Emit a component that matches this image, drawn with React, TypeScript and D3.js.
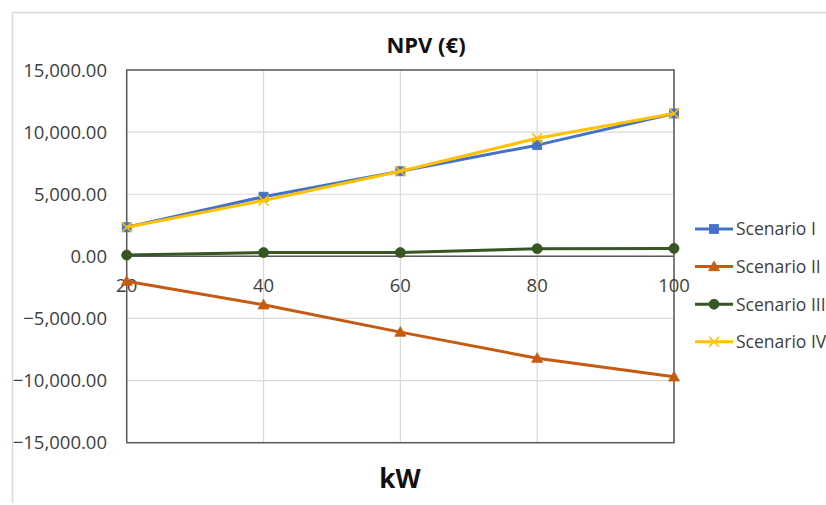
import React from "react";
import * as d3 from "d3";

const categories = [20, 40, 60, 80, 100];
const scenarioI = [2340, 4800, 6850, 8950, 11500];
const scenarioII = [-2000, -3900, -6100, -8200, -9700];
const scenarioIII = [100, 300, 300, 620, 640];
const scenarioIV = [2340, 4500, 6850, 9500, 11500];
const yTicks = [-15000, -10000, -5000, 0, 5000, 10000, 15000];
const seriesNames = ["Scenario I", "Scenario II", "Scenario III", "Scenario IV"];
const seriesColors = ["#4472C4", "#C55A11", "#375623", "#FFC000"];
const seriesMarkers = ["square", "triangle", "circle", "x"];

const W = 826;
const H = 505;
const plot = { left: 126.7, right: 674, top: 70, bottom: 442.7 };
const FONT = "'Open Sans', 'Noto Sans', sans-serif";
const TEXT = "#404040";

function Marker({ type, x, y, color }: { type: string; x: number; y: number; color: string }) {
  if (type === "square") {
    return <rect x={x - 4.5} y={y - 4.5} width={9} height={9} fill={color} stroke={color} strokeWidth={0.8} />;
  }
  if (type === "triangle") {
    const s = 5.5;
    return <path d={`M${x},${y - s}L${x + s},${y + s * 0.75}L${x - s},${y + s * 0.75}Z`} fill={color} stroke={color} strokeWidth={0.8} />;
  }
  if (type === "circle") {
    return <circle cx={x} cy={y} r={5} fill={color} stroke={color} strokeWidth={0.8} />;
  }
  const s = 5;
  return (
    <path d={`M${x - s},${y - s}L${x + s},${y + s}M${x - s},${y + s}L${x + s},${y - s}`} stroke={color} strokeWidth={1.6} fill="none" />
  );
}

export default function App() {
  const x = d3.scaleLinear().domain([20, 100]).range([plot.left, plot.right]);
  const y = d3.scaleLinear().domain([-15000, 15000]).range([plot.bottom, plot.top]);
  const series = [scenarioI, scenarioII, scenarioIII, scenarioIV];
  const line = d3
    .line<number>()
    .x((_, i) => x(categories[i]))
    .y((d) => y(d));
  const fmt = d3.format(",.2f");

  return (
    <svg width={W} height={H} style={{ position: "absolute", left: 0, top: 0, background: "#fff" }} fontFamily={FONT}>
      <rect x={0} y={0} width={W} height={H} fill="#fff" />
      {/* outer chart frame */}
      <line x1={12.5} y1={12.5} x2={W} y2={12.5} stroke="#d9d9d9" strokeWidth={1.5} />
      <line x1={12.5} y1={12.5} x2={12.5} y2={503} stroke="#d9d9d9" strokeWidth={1.5} />

      {/* title */}
      <text x={426} y={52.5} textAnchor="middle" fontSize={22} fontWeight="bold" fill="#111">
        NPV (€)
      </text>

      {/* gridlines */}
      {yTicks.map((t) => (
        <line key={"gy" + t} x1={plot.left} x2={plot.right} y1={y(t)} y2={y(t)} stroke="#d9d9d9" strokeWidth={1.2} />
      ))}
      {categories.map((c) => (
        <line key={"gx" + c} x1={x(c)} x2={x(c)} y1={plot.top} y2={plot.bottom} stroke="#d9d9d9" strokeWidth={1.2} />
      ))}

      {/* plot border */}
      <rect
        x={plot.left}
        y={plot.top}
        width={plot.right - plot.left}
        height={plot.bottom - plot.top}
        fill="none"
        stroke="#595959"
        strokeWidth={1.5}
      />
      {/* zero axis */}
      <line x1={plot.left} x2={plot.right} y1={y(0)} y2={y(0)} stroke="#595959" strokeWidth={1.5} />

      {/* y tick labels */}
      {yTicks.map((t) => (
        <text key={"ty" + t} x={107} y={y(t) + 6.5} textAnchor="end" fontSize={18.5} fill={TEXT}>
          {fmt(t)}
        </text>
      ))}

      {/* x tick labels */}
      {categories.map((c) => (
        <text key={"tx" + c} x={x(c)} y={292} textAnchor="middle" fontSize={18.5} fill={TEXT}>
          {c}
        </text>
      ))}

      {/* series */}
      {series.map((s, si) => (
        <g key={"s" + si}>
          <path d={line(s) || ""} fill="none" stroke={seriesColors[si]} strokeWidth={3} strokeLinejoin="round" />
          {s.map((v, i) => (
            <Marker key={i} type={seriesMarkers[si]} x={x(categories[i])} y={y(v)} color={seriesColors[si]} />
          ))}
        </g>
      ))}

      {/* x axis title */}
      <text x={400} y={488} textAnchor="middle" fontSize={26} fontWeight="bold" fill="#111">
        kW
      </text>

      {/* legend */}
      {seriesNames.map((n, i) => {
        const ly = 229 + i * 37.6;
        return (
          <g key={"lg" + i}>
            <line x1={695} x2={733} y1={ly} y2={ly} stroke={seriesColors[i]} strokeWidth={3} />
            <Marker type={seriesMarkers[i]} x={714} y={ly} color={seriesColors[i]} />
            <text x={736} y={ly + 6.3} fontSize={17.5} fill={TEXT}>
              {n}
            </text>
          </g>
        );
      })}
    </svg>
  );
}
